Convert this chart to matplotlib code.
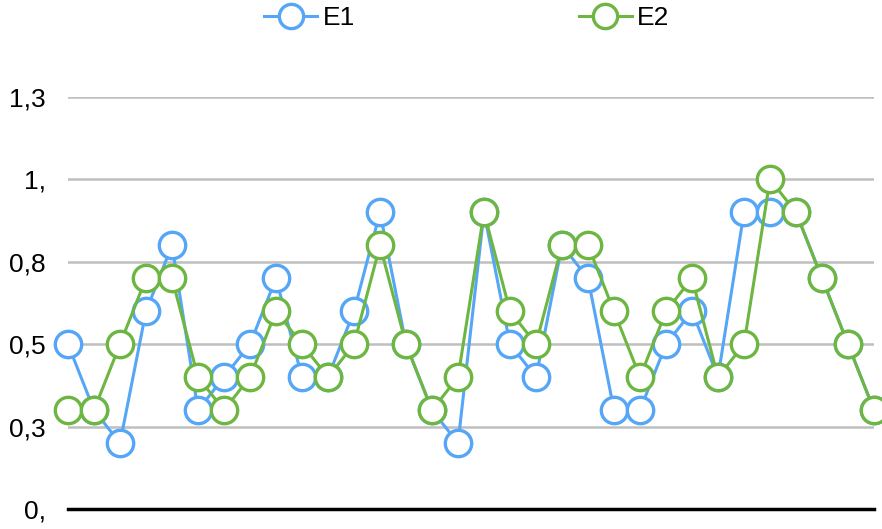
import matplotlib
matplotlib.use("Agg")
import matplotlib.pyplot as plt
import numpy as np

plt.rcParams['font.family'] = ['Liberation Sans', 'DejaVu Sans']

e1 = [0.5, 0.3, 0.2, 0.6, 0.8, 0.3, 0.4, 0.5, 0.7, 0.4, 0.4, 0.6, 0.9, 0.5, 0.3, 0.2,
      0.9, 0.5, 0.4, 0.8, 0.7, 0.3, 0.3, 0.5, 0.6, 0.4, 0.9, 0.9, 0.9, 0.7, 0.5, 0.3]
e2 = [0.3, 0.3, 0.5, 0.7, 0.7, 0.4, 0.3, 0.4, 0.6, 0.5, 0.4, 0.5, 0.8, 0.5, 0.3, 0.4,
      0.9, 0.6, 0.5, 0.8, 0.8, 0.6, 0.4, 0.6, 0.7, 0.4, 0.5, 1.0, 0.9, 0.7, 0.5, 0.3]
y_ticks = [0, 0.25, 0.5, 0.75, 1.0, 1.25]
y_labels = ["0,", "0,3", "0,5", "0,8", "1,", "1,3"]

W, H = 882, 529
fig = plt.figure(figsize=(W / 100, H / 100), dpi=100)
ax = fig.add_axes([68 / W, 1 - 509 / H, (874 - 68) / W, (509 - 97) / H])

x = np.arange(len(e1))
blue = "#55A6F6"
green = "#6DB642"
ax.plot(x, e1, color=blue, lw=2.2, marker="o", ms=19, mfc="white", mec=blue, mew=2.4,
        label="E1", clip_on=False, zorder=3)
ax.plot(x, e2, color=green, lw=2.2, marker="o", ms=19, mfc="white", mec=green, mew=2.4,
        label="E2", clip_on=False, zorder=4)

ax.set_xlim(0, len(e1) - 1)
ax.set_ylim(0, 1.25)
ax.set_yticks(y_ticks)
ax.set_yticklabels(y_labels, fontsize=19)
ax.set_xticks([])
ax.tick_params(axis="y", length=0, pad=16)
ax.grid(axis="y", color="#BFBFBF", lw=1.8)
ax.set_axisbelow(True)
for s in ["top", "right", "left"]:
    ax.spines[s].set_visible(False)
ax.spines["bottom"].set_color("black")
ax.spines["bottom"].set_linewidth(2.5)
ax.spines["bottom"].set_zorder(2)

fig.legend(loc="center", bbox_to_anchor=(467 / W, 1 - 18 / H), ncol=2, frameon=False,
           fontsize=19, handlelength=2.0, handletextpad=0.2, columnspacing=8.5,
           markerscale=0.92)

fig.savefig("out.png", dpi=100)
